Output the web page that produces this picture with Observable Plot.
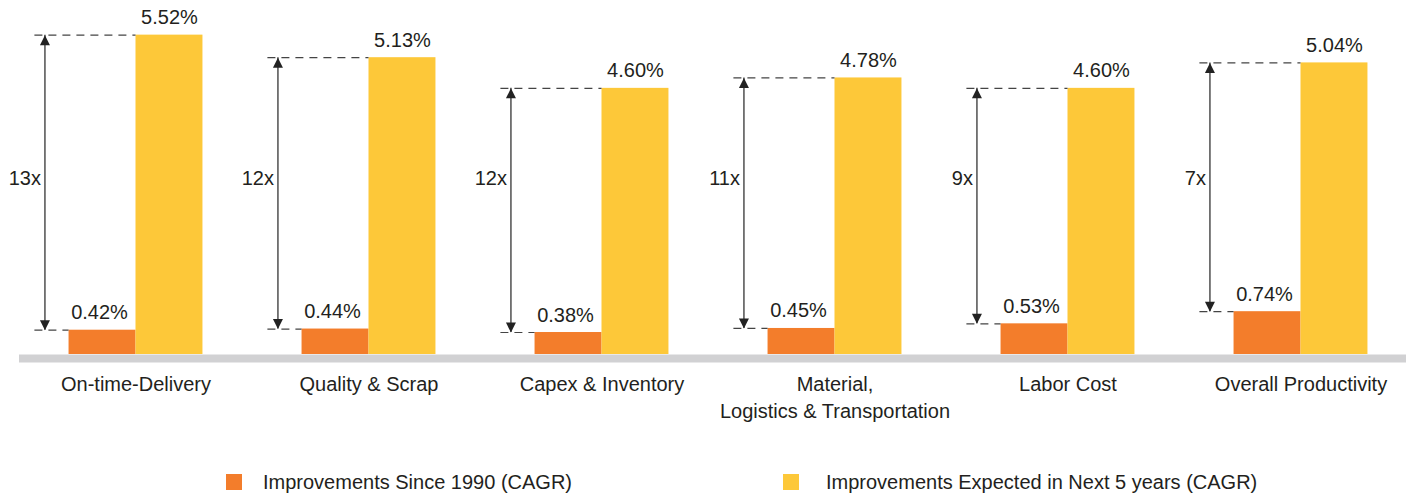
<!DOCTYPE html>
<html>
<head>
<meta charset="utf-8">
<script src="https://cdn.jsdelivr.net/npm/d3@7"></script>
<script src="https://cdn.jsdelivr.net/npm/@observablehq/plot@0.6"></script>
<style>
  html, body { margin: 0; padding: 0; background: #fff; }
  body { position: relative; width: 1406px; height: 497px; overflow: hidden; font-family: "Liberation Sans", Arial, sans-serif; color: #231F20; }
  #chart svg { display: block; }
  .legend-item { position: absolute; top: 472px; font-size: 20px; line-height: 20px; white-space: nowrap; }
  .legend-swatch { position: absolute; top: 474px; width: 16px; height: 16px; }
</style>
</head>
<body>
<div id="chart"></div>
<div id="legend"></div>
<script>
// ---- data ----
const categories = ["On-time-Delivery", "Quality & Scrap", "Capex & Inventory", "Material,\nLogistics & Transportation", "Labor Cost", "Overall Productivity"];
const since1990 = [0.42, 0.44, 0.38, 0.45, 0.53, 0.74];
const next5 = [5.52, 5.13, 4.60, 4.78, 4.60, 5.04];
const multiples = ["13x", "12x", "12x", "11x", "9x", "7x"];
const seriesLabels = ["Improvements Since 1990 (CAGR)", "Improvements Expected in Next 5 years (CAGR)"];
const seriesColors = ["#F37D2B", "#FDC839"];

const rows = categories.map((cat, i) => ({cat, since: since1990[i], next: next5[i], mult: multiples[i]}));

// inner (within-group) layout in bar-width units
const ARROW_X = -1.36;
const DASH_X = -1.51;
const LABEL_LEVEL = 3.04;
const textColor = "#231F20";
const lineColor = "#333";

const headUp = {draw(ctx) { ctx.moveTo(0, 0); ctx.lineTo(5, 10); ctx.lineTo(-5, 10); ctx.closePath(); }};
const headDown = {draw(ctx) { ctx.moveTo(0, 0); ctx.lineTo(5, -10); ctx.lineTo(-5, -10); ctx.closePath(); }};
const fmt = v => v.toFixed(2) + "%";

const chart = Plot.plot({
  width: 1406,
  height: 450,
  marginTop: 30,
  marginBottom: 96,
  marginLeft: 19,
  marginRight: 0,
  style: {fontFamily: "'Liberation Sans', Arial, sans-serif", fontSize: "20px", color: textColor, background: "#fff"},
  facet: {data: rows, x: "cat"},
  fx: {domain: categories, range: [18.4, 1417.6], padding: 0, axis: null},
  x: {domain: [-1.74, 1.74], axis: null},
  y: {domain: [0, 5.6], axis: null},
  marks: [
    Plot.ruleY([0], {stroke: "#D1D1D3", strokeWidth: 8, dy: 4}),
    Plot.rectY(rows, {x1: -1, x2: 0, y1: 0, y2: "since", fill: seriesColors[0]}),
    Plot.rectY(rows, {x1: 0, x2: 1, y1: 0, y2: "next", fill: seriesColors[1]}),
    Plot.ruleY(rows, {y: "next", x1: DASH_X, x2: 0, stroke: "#444", strokeWidth: 1.2, strokeDasharray: "8,6"}),
    Plot.ruleY(rows, {y: "since", x1: DASH_X, x2: -1, stroke: "#444", strokeWidth: 1.2, strokeDasharray: "8,6"}),
    Plot.ruleX(rows, {x: ARROW_X, y1: "since", y2: "next", stroke: lineColor, strokeWidth: 1.3}),
    Plot.dot(rows, {x: ARROW_X, y: "next", symbol: headUp, r: 5, fill: "#222", stroke: "none"}),
    Plot.dot(rows, {x: ARROW_X, y: "since", symbol: headDown, r: 5, fill: "#222", stroke: "none"}),
    Plot.text(rows, {x: -0.5, y: "since", text: d => fmt(d.since), dx: -3, dy: -11, lineAnchor: "bottom", fontSize: 20, fill: textColor}),
    Plot.text(rows, {x: 0.5, y: "next", text: d => fmt(d.next), dy: -11, lineAnchor: "bottom", fontSize: 20, fill: textColor}),
    Plot.text(rows, {x: ARROW_X, y: LABEL_LEVEL, text: "mult", textAnchor: "end", dx: -4, lineAnchor: "middle", fontSize: 20, fill: textColor}),
    Plot.text(rows, {x: 0, y: 0, text: "cat", lineAnchor: "top", dy: 17, lineHeight: 1.35, fontSize: 20, fill: textColor})
  ]
});
document.getElementById("chart").append(chart);

// ---- legend ----
const legend = document.getElementById("legend");
const legendPos = [{sw: 226, tx: 263}, {sw: 783, tx: 826}];
seriesLabels.forEach((label, i) => {
  const sw = document.createElement("div");
  sw.className = "legend-swatch";
  sw.style.left = legendPos[i].sw + "px";
  sw.style.background = seriesColors[i];
  const tx = document.createElement("div");
  tx.className = "legend-item";
  tx.style.left = legendPos[i].tx + "px";
  tx.textContent = label;
  legend.append(sw, tx);
});
</script>
</body>
</html>
